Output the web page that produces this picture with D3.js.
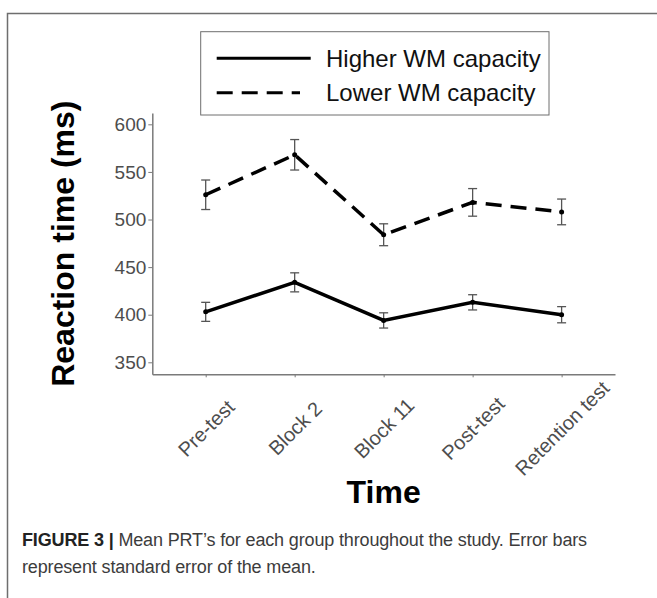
<!DOCTYPE html>
<html lang="en">
<head>
  <meta charset="UTF-8">
  <title>Mean PRT by group</title>
  <style>
    body { margin: 0; background: #fff; }
    svg { font-family: "Liberation Sans", Arial, sans-serif; }
  </style>
  <script src="https://d3js.org/d3.v7.min.js"></script>
</head>
<body>
  <svg width="657" height="598"></svg>

  <script>
    // data
    var timePoints = ["Pre-test", "Block 2", "Block 11", "Post-test", "Retention test"];
    var higherMean = [403, 434, 394, 413, 400];
    var higherSE   = [10, 10, 8, 8, 8.5];
    var lowerMean  = [526, 568, 484, 518, 508];
    var lowerSE    = [15.5, 16, 11.5, 14.5, 13.5];
    var yTicks = [350, 400, 450, 500, 550, 600];
    var groups = ["Higher WM capacity", "Lower WM capacity"];

    var svg = d3.select("svg");

    // panel edges
    var pLeft = 152.3, pRight = 615, pTop = 113, pBottom = 374.3;

    var x = d3.scalePoint().domain(timePoints).range([pLeft, pRight]).padding(0.6);
    var y = d3.scaleLinear().domain([337.4, 611.9]).range([pBottom, pTop]);

    // figure frame (left + top border)
    svg.append("path")
      .attr("d", "M7.5,598V13.5H657")
      .attr("fill", "none")
      .attr("stroke", "#6e6e6e")
      .attr("stroke-width", 1.5);

    // axes
    var yAxis = svg.append("g")
      .attr("transform", "translate(" + pLeft + ",0)")
      .call(d3.axisLeft(y).tickValues(yTicks).tickSize(4).tickSizeOuter(0).tickPadding(2));
    yAxis.selectAll("text").attr("font-size", 19).attr("fill", "#4d4d4d").attr("font-family", "Liberation Sans, Arial");

    var xAxis = svg.append("g")
      .attr("transform", "translate(0," + pBottom + ")")
      .call(d3.axisBottom(x).tickSize(3).tickSizeOuter(0));
    xAxis.selectAll("text")
      .attr("font-size", 20)
      .attr("fill", "#4d4d4d")
      .attr("font-family", "Liberation Sans, Arial")
      .attr("text-anchor", "middle")
      .attr("y", 0)
      .attr("dy", "0.35em")
      .attr("transform", "translate(0,54) rotate(-45)");

    svg.selectAll(".domain").attr("stroke", "#7a7a7a").attr("stroke-width", 1.5);
    svg.selectAll(".tick line").attr("stroke", "#7a7a7a").attr("stroke-width", 1);

    // series
    var series = [
      { name: groups[0], mean: higherMean, se: higherSE, dash: null },
      { name: groups[1], mean: lowerMean, se: lowerSE, dash: "16,9" }
    ];

    var line = d3.line()
      .x(function(d, i) { return x(timePoints[i]); })
      .y(function(d) { return y(d); });

    series.forEach(function(s) {
      // error bars
      var eb = svg.append("g").attr("stroke", "#555").attr("stroke-width", 1.3);
      s.mean.forEach(function(m, i) {
        var cx = x(timePoints[i]);
        eb.append("line").attr("x1", cx).attr("x2", cx).attr("y1", y(m - s.se[i])).attr("y2", y(m + s.se[i]));
        eb.append("line").attr("x1", cx - 4.5).attr("x2", cx + 4.5).attr("y1", y(m - s.se[i])).attr("y2", y(m - s.se[i]));
        eb.append("line").attr("x1", cx - 4.5).attr("x2", cx + 4.5).attr("y1", y(m + s.se[i])).attr("y2", y(m + s.se[i]));
      });

      svg.append("path")
        .datum(s.mean)
        .attr("d", line)
        .attr("fill", "none")
        .attr("stroke", "#000")
        .attr("stroke-width", 3.5)
        .attr("stroke-dasharray", s.dash);

      svg.selectAll(null)
        .data(s.mean)
        .enter().append("circle")
        .attr("cx", function(d, i) { return x(timePoints[i]); })
        .attr("cy", function(d) { return y(d); })
        .attr("r", 2.5)
        .attr("fill", "#000");
    });

    // axis titles
    svg.append("text")
      .attr("transform", "translate(74," + ((pTop + pBottom) / 2) + ") rotate(-90)")
      .attr("text-anchor", "middle")
      .attr("font-size", 32)
      .attr("font-weight", "bold")
      .text("Reaction time (ms)");

    svg.append("text")
      .attr("x", (pLeft + pRight) / 2)
      .attr("y", 503)
      .attr("text-anchor", "middle")
      .attr("font-size", 32)
      .attr("font-weight", "bold")
      .text("Time");

    // legend
    var lg = svg.append("g");
    lg.append("rect")
      .attr("x", 200.7).attr("y", 31.7)
      .attr("width", 348.3).attr("height", 83.3)
      .attr("fill", "#fff").attr("stroke", "#6e6e6e").attr("stroke-width", 1);
    series.forEach(function(s, i) {
      var ly = 58.3 + i * 34.4;
      lg.append("line")
        .attr("x1", 216.7).attr("x2", i === 0 ? 310.7 : 300)
        .attr("y1", ly).attr("y2", ly)
        .attr("stroke", "#000").attr("stroke-width", 3)
        .attr("stroke-dasharray", s.dash);
      lg.append("text")
        .attr("x", 326).attr("y", ly + 8.6)
        .attr("font-size", 24)
        .attr("fill", "#111")
        .text(s.name);
    });

    // caption
    var cap = svg.append("text").attr("x", 22).attr("y", 546).attr("font-size", 18).attr("letter-spacing", -0.15).attr("fill", "#3c3c3c");
    cap.append("tspan").attr("font-weight", "bold").attr("fill", "#222").text("FIGURE 3 | ");
    cap.append("tspan").text("Mean PRT\u2019s for each group throughout the study. Error bars");
    svg.append("text").attr("x", 22).attr("y", 573).attr("font-size", 18).attr("letter-spacing", -0.15).attr("fill", "#3c3c3c")
      .text("represent standard error of the mean.");
  </script>
</body>
</html>
